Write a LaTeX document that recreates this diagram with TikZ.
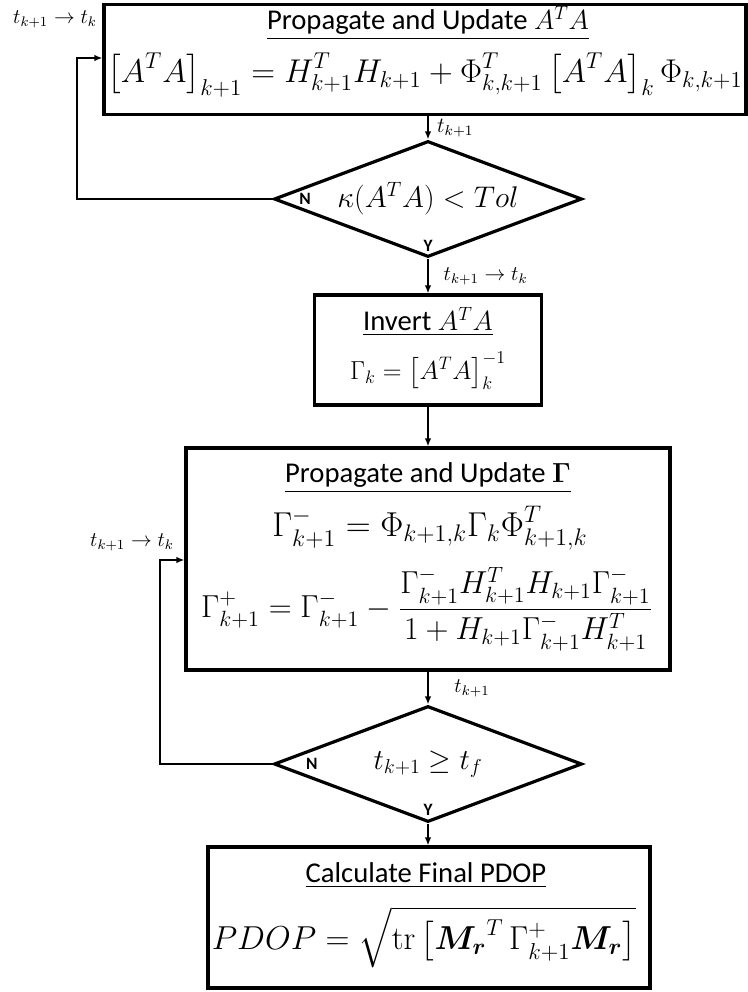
\documentclass[tikz,border=0pt]{standalone}
\usepackage{amsmath,bm,graphicx}
\usepackage{fontspec}
\newfontfamily\calibri{Carlito}
\usetikzlibrary{arrows.meta,positioning,shapes.geometric}

\begin{document}
\begin{tikzpicture}[
    x=0.75pt,y=-0.75pt,
    stepbox/.style={draw,line width=2.4pt,inner sep=0pt},
    decision/.style={draw,diamond,line width=2.4pt,inner sep=0pt,aspect=2.7,
                     minimum width=231pt,minimum height=87pt,font=\huge},
    title/.style={font=\calibri\fontsize{21.5}{25}\selectfont,inner sep=0pt},
    eqn/.style={font=\LARGE,inner sep=0pt},
    flow/.style={-{Latex[length=6pt,width=5pt]},line width=1.6pt},
    lbl/.style={font=\large,inner sep=1pt},
    yn/.style={font=\calibri\bfseries\fontsize{13}{15}\selectfont,inner sep=0pt}
  ]
    \useasboundingbox (0,0) rectangle (748,992);

    % propagate A^T A
    \node[stepbox,minimum width=481.5pt,minimum height=83pt] (upd) at (425,59.5) {};
    \node[title] (updT) at (428,23) {\underline{Propagate and Update $A^TA$}};
    \node[eqn] (updE) at (425,75) {\scalebox{1.43}{$\displaystyle\left[A^TA\right]_{k+1}=H^T_{k+1}H_{k+1}+\Phi^T_{k,k+1}\left[A^TA\right]_k\Phi_{k,k+1}$}};
    \node[decision] (tol) at (428,199) {\scalebox{1.08}{$\kappa(A^TA)<Tol$}};

    % invert
    \node[stepbox,minimum width=170pt,minimum height=82.5pt] (inv) at (428,350) {};
    \node[title] (invT) at (428,322) {\underline{Invert $A^TA$}};
    \node[eqn] (invE) at (428,371) {\scalebox{1.13}{$\displaystyle\Gamma_k=\left[A^TA\right]_k^{-1}$}};

    % propagate Gamma
    \node[stepbox,minimum width=363pt,minimum height=166.5pt] (prop) at (428,559) {};
    \node[title] (propT) at (428,478) {\underline{Propagate and Update $\bm{\Gamma}$}};
    \node[eqn] (propA) at (430,528) {\scalebox{1.5}{$\displaystyle\Gamma^-_{k+1}=\Phi_{k+1,k}\Gamma_k\Phi^T_{k+1,k}$}};
    \node[eqn] (propB) at (427,609) {\scalebox{1.38}{$\displaystyle\Gamma^+_{k+1}=\Gamma^-_{k+1}-\frac{\Gamma^-_{k+1}H^T_{k+1}H_{k+1}\Gamma^-_{k+1}}{1+H_{k+1}\Gamma^-_{k+1}H^T_{k+1}}$}};
    \node[decision] (chk) at (428,764) {\scalebox{1.05}{$t_{k+1}\geq t_f$}};

    % final PDOP
    \node[stepbox,minimum width=331.5pt,minimum height=105.75pt] (pdop) at (429,917.5) {};
    \node[title] (pdopT) at (426,875) {\underline{Calculate Final PDOP}};
    \node[eqn] (pdopE) at (424,937) {\scalebox{1.44}{$\displaystyle PDOP=\sqrt{\mathrm{tr}\left[{\bm{M}_{\bm{r}}}^T\,\Gamma^+_{k+1}\bm{M}_{\bm{r}}\right]}$}};

    % yes / no
    \node[yn,right=20pt of tol.west] (tolN) {N};
    \node[yn,above=5pt of tol.south] (tolY) {Y};
    \node[yn,right=25pt of chk.west] (chkN) {N};
    \node[yn,above=6pt of chk.south] (chkY) {Y};

    % main flow
    \draw[flow] (tol.north |- upd.south) -- node[lbl,right=5pt]{\scalebox{1.35}{$t_{k+1}$}} (tol.north);
    \draw[flow] (tol.south) -- node[lbl,right=10pt]{\scalebox{1.3}{$t_{k+1}\to t_k$}} (inv.north);
    \draw[flow] (inv.south) -- (inv.south |- prop.north);
    \draw[flow] (chk.north |- prop.south) -- node[lbl,right=18pt]{\scalebox{1.3}{$t_{k+1}$}} (chk.north);
    \draw[flow] (chk.south) -- (chk.south |- pdop.north);

    % loops back
    \coordinate (back1) at (77,58);
    \draw[flow] (tol.west) -| (back1) -- (back1 -| upd.west);
    \node[lbl] (back1T) at (55,19) {\scalebox{1.3}{$t_{k+1}\to t_k$}};
    \coordinate (back2) at (160,560);
    \draw[flow] (chk.west) -| (back2) -- (back2 -| prop.west);
    \node[lbl] (back2T) at (132,542) {\scalebox{1.3}{$t_{k+1}\to t_k$}};
\end{tikzpicture}
\end{document}
